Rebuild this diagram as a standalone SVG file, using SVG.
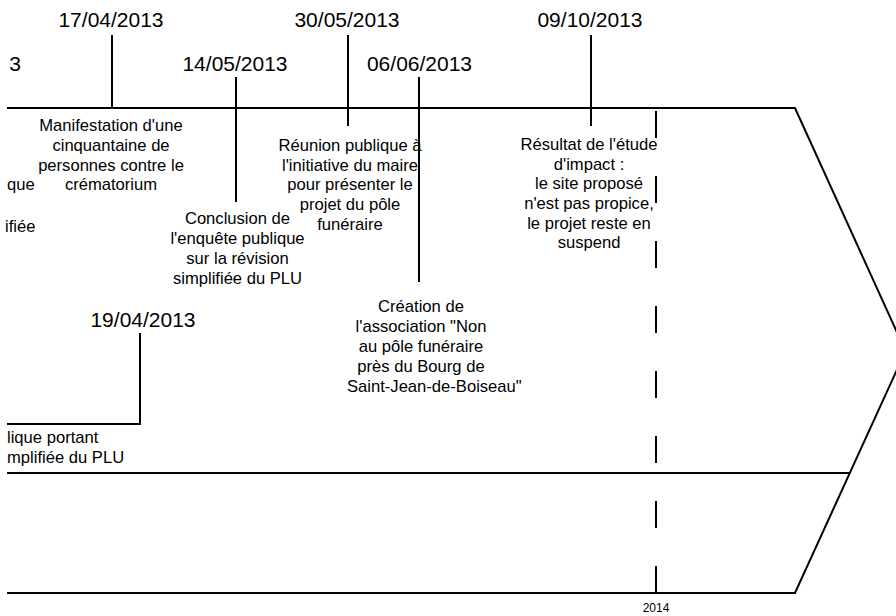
<svg xmlns="http://www.w3.org/2000/svg" width="896" height="616" viewBox="0 0 896 616">
<style>
  .frame{fill:none;stroke:#000;stroke-width:2}
  .tick{fill:none;stroke:#000;stroke-width:2}
  .dash{fill:none;stroke:#000;stroke-width:2;stroke-dasharray:27 38}
  .date{font-family:"Liberation Sans",Arial,sans-serif;font-size:21px;fill:#000;text-anchor:middle}
  .desc{font-family:"Liberation Sans",Arial,sans-serif;font-size:16.6px;fill:#000;text-anchor:middle}
  .left{text-anchor:start}
  .year{font-family:"Liberation Sans",Arial,sans-serif;font-size:12px;fill:#000;text-anchor:middle}
</style>
<rect width="896" height="616" fill="#fff"/>

<g id="frame">
  <path class="frame" d="M7,108 H795 L905.5,351 L795,593 H7"/>
  <path class="frame" d="M7,473 H850"/>
  <path class="dash" d="M656,593 V108"/>
  <text class="year" x="656" y="612">2014</text>
</g>

<g id="connectors">
  <path class="tick" d="M112,35 V108"/>
  <path class="tick" d="M236,77 V202"/>
  <path class="tick" d="M348,35 V126"/>
  <path class="tick" d="M591,35 V126"/>
  <path class="tick" d="M140,333 V424 H7"/>
</g>

<g id="event-prev">
  <text class="date" x="21" y="71" style="text-anchor:end">3</text>
  <text class="desc left" x="7" y="190">que</text>
  <text class="desc left" x="5" y="232">ifiée</text>
</g>

<g id="event-17-04">
  <text class="date" x="111" y="27">17/04/2013</text>
  <text class="desc" x="111" y="131">Manifestation d'une</text>
  <text class="desc" x="111" y="151">cinquantaine de</text>
  <text class="desc" x="111" y="170.5">personnes contre le</text>
  <text class="desc" x="111" y="190">crématorium</text>
</g>

<g id="event-14-05">
  <text class="date" x="235" y="71">14/05/2013</text>
  <text class="desc" x="237.5" y="224">Conclusion de</text>
  <text class="desc" x="237.5" y="244">l'enquête publique</text>
  <text class="desc" x="237.5" y="264">sur la révision</text>
  <text class="desc" x="237.5" y="284">simplifiée du PLU</text>
</g>

<g id="event-30-05">
  <text class="date" x="347" y="27">30/05/2013</text>
  <text class="desc" x="350" y="151">Réunion publique à</text>
  <text class="desc" x="350" y="170.5">l'initiative du maire</text>
  <text class="desc" x="350" y="190">pour présenter le</text>
  <text class="desc" x="350" y="210">projet du pôle</text>
  <text class="desc" x="350" y="229.5">funéraire</text>
</g>

<g id="event-06-06">
  <text class="date" x="419.5" y="71">06/06/2013</text>
  <text class="desc" x="421" y="312">Création de</text>
  <text class="desc" x="421" y="332">l'association "Non</text>
  <text class="desc" x="421" y="352">au pôle funéraire</text>
  <text class="desc" x="421" y="372">près du Bourg de</text>
  <text class="desc left" x="347" y="392">Saint-Jean-de-Boiseau"</text>
  <path class="tick" d="M419,77 V282"/>
</g>

<g id="event-09-10">
  <text class="date" x="590" y="27">09/10/2013</text>
  <text class="desc" x="589" y="150">Résultat de l'étude</text>
  <text class="desc" x="589" y="169.5">d'impact :</text>
  <text class="desc" x="589" y="189">le site proposé</text>
  <text class="desc" x="589" y="209">n'est pas propice,</text>
  <text class="desc" x="589" y="228.5">le projet reste en</text>
  <text class="desc" x="589" y="248">suspend</text>
</g>

<g id="event-19-04">
  <text class="date" x="143" y="327">19/04/2013</text>
  <text class="desc left" x="7" y="443">lique portant</text>
  <text class="desc left" x="7" y="463">mplifiée du PLU</text>
</g>
</svg>
